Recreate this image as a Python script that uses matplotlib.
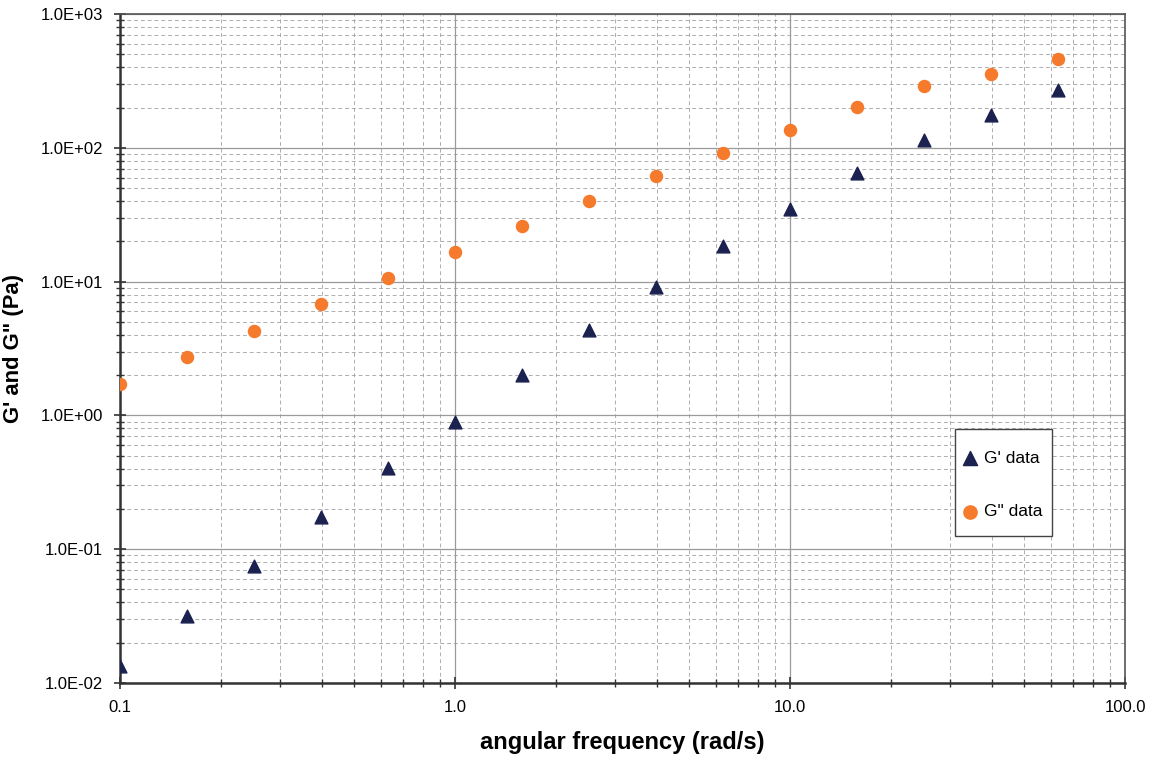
import matplotlib
matplotlib.use("Agg")
import matplotlib.pyplot as plt
from matplotlib.patches import Rectangle
from matplotlib.ticker import LogLocator, FixedLocator, FuncFormatter, NullFormatter

# --- data ---
freq = [0.1, 0.158, 0.251, 0.398, 0.631, 1.0, 1.585, 2.51, 3.98, 6.31,
        10.0, 15.85, 25.1, 39.8, 63.1]
g_storage = [0.0134, 0.0316, 0.0746, 0.173, 0.402, 0.90, 2.02, 4.38, 9.18, 18.6,
             35.1, 65.0, 115, 176, 271]
g_loss = [1.73, 2.75, 4.3, 6.85, 10.7, 16.7, 26.2, 40.2, 61.8, 91.8,
          136, 202, 290, 356, 462]

NAVY = "#1b2250"
ORANGE = "#f57a2c"
GRID = "#9a9a9a"

plt.rcParams["font.family"] = ["Liberation Sans", "DejaVu Sans"]

fig = plt.figure(figsize=(11.54, 7.61), dpi=100)
ax = fig.add_axes([0.104, 0.1025, 0.871, 0.879])

ax.scatter(freq, g_storage, marker="^", s=85, color=NAVY, label="G' data", zorder=3)
ax.scatter(freq, g_loss, marker="o", s=75, color=ORANGE, label='G" data', zorder=3)

ax.set_xscale("log")
ax.set_yscale("log")
ax.set_xlim(0.1, 100)
ax.set_ylim(0.01, 1000)

ax.xaxis.set_major_locator(FixedLocator([0.1, 1, 10, 100]))
ax.xaxis.set_minor_locator(LogLocator(base=10, subs=range(2, 10)))
ax.yaxis.set_major_locator(FixedLocator([0.01, 0.1, 1, 10, 100, 1000]))
ax.yaxis.set_minor_locator(LogLocator(base=10, subs=range(2, 10)))
ax.xaxis.set_major_formatter(FuncFormatter(lambda v, p: f"{v:.1f}"))
ax.yaxis.set_major_formatter(FuncFormatter(lambda v, p: f"{v:.1E}"))
ax.xaxis.set_minor_formatter(NullFormatter())
ax.yaxis.set_minor_formatter(NullFormatter())

ax.grid(which="major", color=GRID, lw=0.9, ls="-")
ax.grid(which="minor", color=GRID, lw=0.7, ls=(0, (4, 3)), alpha=0.8)
ax.set_axisbelow(True)

ax.tick_params(which="both", direction="inout", color="#333333", labelsize=12)
ax.tick_params(which="major", length=8, width=1.2, pad=8)
ax.tick_params(which="minor", length=6, width=1.0)
for sp in ax.spines.values():
    sp.set_color("#555555")
    sp.set_linewidth(1.2)
ax.spines["left"].set_color("#333333")
ax.spines["bottom"].set_color("#333333")
ax.spines["left"].set_linewidth(1.8)
ax.spines["bottom"].set_linewidth(1.8)

ax.set_xlabel("angular frequency (rad/s)", fontsize=17, fontweight="bold", labelpad=12)
ax.set_ylabel("G' and G\" (Pa)", fontsize=15.8, fontweight="bold", labelpad=12)

# legend box drawn separately so its size matches the reference
box = Rectangle((0.831, 0.220), 0.096, 0.160, transform=ax.transAxes,
                facecolor="white", edgecolor="#444444", lw=1.0, zorder=4)
ax.add_patch(box)
leg = ax.legend(loc="upper left", bbox_to_anchor=(0.837, 0.347), fontsize=12.5,
                frameon=False, borderpad=0, labelspacing=2.2,
                handletextpad=0.3, handlelength=1.0, borderaxespad=0,
                markerscale=1.1)
leg.set_zorder(5)

fig.savefig("out.png", dpi=100)
